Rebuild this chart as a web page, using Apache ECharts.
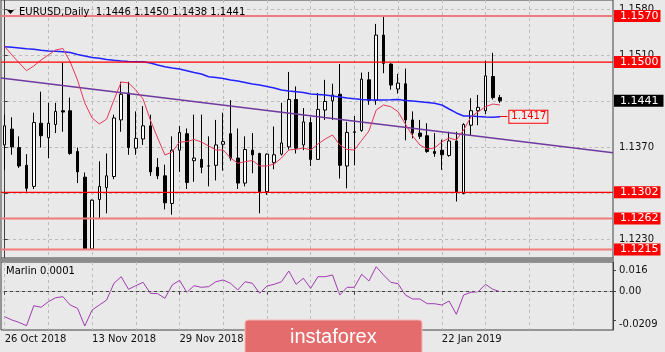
<!DOCTYPE html>
<html>
<head>
<meta charset="utf-8">
<script src="https://cdn.jsdelivr.net/npm/echarts@6/dist/echarts.min.js"></script>
<style>
html, body { margin: 0; padding: 0; background: #e9e9e9; }
#chart { width: 665px; height: 352px; }
</style>
</head>
<body>
<div id="chart"></div>
<script>
// trading days on the chart
var dates = ['26 Oct 2018','29 Oct 2018','30 Oct 2018','31 Oct 2018','1 Nov 2018','2 Nov 2018',
    '5 Nov 2018','6 Nov 2018','7 Nov 2018','8 Nov 2018','9 Nov 2018','12 Nov 2018','13 Nov 2018',
    '14 Nov 2018','15 Nov 2018','16 Nov 2018','19 Nov 2018','20 Nov 2018','21 Nov 2018','22 Nov 2018',
    '23 Nov 2018','26 Nov 2018','27 Nov 2018','28 Nov 2018','29 Nov 2018','30 Nov 2018','3 Dec 2018',
    '4 Dec 2018','5 Dec 2018','6 Dec 2018','7 Dec 2018','10 Dec 2018','11 Dec 2018','12 Dec 2018',
    '13 Dec 2018','14 Dec 2018','17 Dec 2018','18 Dec 2018','19 Dec 2018','20 Dec 2018','21 Dec 2018',
    '24 Dec 2018','26 Dec 2018','27 Dec 2018','28 Dec 2018','31 Dec 2018','2 Jan 2019','3 Jan 2019',
    '4 Jan 2019','7 Jan 2019','8 Jan 2019','9 Jan 2019','10 Jan 2019','11 Jan 2019','14 Jan 2019',
    '15 Jan 2019','16 Jan 2019','17 Jan 2019','18 Jan 2019','21 Jan 2019','22 Jan 2019','23 Jan 2019',
    '24 Jan 2019','25 Jan 2019','28 Jan 2019','29 Jan 2019','30 Jan 2019','31 Jan 2019','1 Feb 2019'];
// empty space on the right of the chart
var futureDates = ['4 Feb 2019','5 Feb 2019','6 Feb 2019','7 Feb 2019','8 Feb 2019','11 Feb 2019',
    '12 Feb 2019','13 Feb 2019','14 Feb 2019','15 Feb 2019','18 Feb 2019','19 Feb 2019','20 Feb 2019',
    '21 Feb 2019','22 Feb 2019'];

var openP = [1.1374,1.1398,1.1370,1.1343,1.1311,1.1407,1.1385,1.1405,1.1426,1.1426,
    1.1364,1.1325,1.1216,1.1291,1.1309,1.1326,1.1412,1.1453,1.1369,1.1383,
    1.1403,1.1340,1.1327,1.1285,1.1366,1.1391,1.1350,1.1352,1.1342,1.1343,
    1.1375,1.1391,1.1354,1.1316,1.1366,1.1361,1.1303,1.1347,1.1360,1.1371,
    1.1443,1.1374,1.1408,1.1352,1.1427,1.1441,1.1451,1.1342,1.1393,1.1396,
    1.1473,1.1442,1.1541,1.1497,1.1459,1.1467,1.1412,1.1392,1.1388,1.1364,
    1.1366,1.1358,1.1380,1.1300,1.1404,1.1426,1.1426,1.1478,1.1446];
var highP = [1.1420,1.1416,1.1387,1.1360,1.1423,1.1455,1.1438,1.1438,1.1499,1.1446,
    1.1370,1.1332,1.1291,1.1349,1.1361,1.1420,1.1470,1.1470,1.1425,1.1433,
    1.1420,1.1354,1.1344,1.1387,1.1403,1.1399,1.1420,1.1420,1.1387,1.1412,
    1.1423,1.1442,1.1399,1.1387,1.1392,1.1362,1.1361,1.1402,1.1438,1.1485,
    1.1463,1.1430,1.1416,1.1453,1.1473,1.1467,1.1497,1.1409,1.1418,1.1484,
    1.1485,1.1558,1.1569,1.1498,1.1482,1.1490,1.1425,1.1412,1.1407,1.1392,
    1.1382,1.1394,1.1394,1.1407,1.1445,1.1450,1.1502,1.1514,1.1450];
var lowP = [1.1336,1.1359,1.1339,1.1303,1.1307,1.1370,1.1354,1.1392,1.1394,1.1359,
    1.1316,1.1215,1.1215,1.1263,1.1270,1.1322,1.1394,1.1359,1.1359,1.1374,
    1.1327,1.1322,1.1276,1.1268,1.1333,1.1307,1.1318,1.1331,1.1311,1.1320,
    1.1335,1.1350,1.1307,1.1311,1.1331,1.1270,1.1298,1.1337,1.1358,1.1367,
    1.1361,1.1366,1.1342,1.1351,1.1412,1.1412,1.1323,1.1308,1.1343,1.1394,
    1.1435,1.1435,1.1483,1.1458,1.1452,1.1381,1.1384,1.1383,1.1362,1.1356,
    1.1336,1.1356,1.1288,1.1299,1.1389,1.1404,1.1421,1.1443,1.1438];
var closeP = [1.1403,1.1371,1.1342,1.1308,1.1408,1.1388,1.1407,1.1425,1.1424,1.1361,
    1.1333,1.1216,1.1290,1.1311,1.1327,1.1415,1.1451,1.1370,1.1384,1.1403,
    1.1333,1.1327,1.1286,1.1366,1.1393,1.1317,1.1354,1.1340,1.1342,1.1374,
    1.1379,1.1354,1.1316,1.1367,1.1359,1.1303,1.1360,1.1359,1.1377,1.1443,
    1.1369,1.1409,1.1352,1.1428,1.1440,1.1450,1.1343,1.1393,1.1394,1.1474,
    1.1442,1.1541,1.1498,1.1465,1.1468,1.1412,1.1392,1.1387,1.1364,1.1361,
    1.1359,1.1380,1.1303,1.1405,1.1426,1.1431,1.1479,1.1446,1.1441];

// moving averages
var maBlue = [1.15233,1.15224,1.15214,1.15203,1.15194,1.15179,1.15168,1.15163,1.15157,1.15145,
    1.15115,1.15092,1.15069,1.15057,1.15039,1.15027,1.15016,1.15008,1.15005,1.15005,
    1.14986,1.14955,1.14929,1.14910,1.14894,1.14869,1.14841,1.14818,1.14777,1.14765,
    1.14750,1.14727,1.14712,1.14689,1.14666,1.14651,1.14628,1.14606,1.14575,1.14560,
    1.14549,1.14537,1.14514,1.14507,1.14499,1.14484,1.14469,1.14454,1.14441,1.14431,
    1.14423,1.14423,1.14423,1.14426,1.14431,1.14416,1.14408,1.14397,1.14385,1.14373,
    1.14347,1.14286,1.14226,1.14180,1.14180,1.14172,1.14165,1.14160,1.14170];
var maRed = [1.15236,1.15107,1.14986,1.14869,1.14940,1.15031,1.15107,1.15183,1.15206,1.15001,
    1.14727,1.14378,1.14150,1.14058,1.14134,1.14423,1.14697,1.14682,1.14575,1.14438,
    1.14119,1.13846,1.13587,1.13633,1.13785,1.13789,1.13823,1.13785,1.13724,1.13663,
    1.13663,1.13542,1.13461,1.13485,1.13504,1.13420,1.13420,1.13450,1.13542,1.13663,
    1.13674,1.13694,1.13663,1.13754,1.13830,1.13891,1.13739,1.13671,1.13663,1.13808,
    1.13952,1.14271,1.14347,1.14321,1.14245,1.14058,1.13876,1.13739,1.13678,1.13694,
    1.13785,1.13846,1.13815,1.13967,1.14165,1.14245,1.14321,1.14362,1.14347];
var marlin = [-0.01844,-0.02087,-0.02271,-0.02507,-0.01032,-0.01150,-0.00737,-0.00442,-0.00369,-0.00981,
    -0.01224,-0.02530,-0.01350,-0.00981,-0.00612,0.00619,0.01106,0.00177,0.00442,0.00693,
    -0.00118,-0.00147,-0.00487,0.00494,0.00841,-0.00044,0.00442,0.00324,0.00369,0.00737,
    0.00863,0.00619,0.00125,0.00737,0.00619,-0.00118,0.00420,0.00546,0.00737,0.01527,
    0.00546,0.00988,0.00251,0.01106,0.01106,0.01232,-0.00243,0.00324,0.00324,0.01283,
    0.00789,0.01844,0.01232,0.00693,0.00590,-0.00243,-0.00538,-0.00538,-0.00885,-0.00885,
    -0.00981,-0.00686,-0.01667,-0.00243,-0.00044,0.00000,0.00546,0.00177,0.00000];

var levels = [1.1570, 1.1500, 1.1302, 1.1262, 1.1215];
var trendEnds = [1.14758, 1.13622];
var priceTicks = [1.1230, 1.1300, 1.1370, 1.1440, 1.1510, 1.1580];
var marlinTicks = [-0.0209, 0, 0.016];

var allDates = dates.concat(futureDates);
var last = dates.length - 1;
var font = 'DejaVu Sans';
var dash = { color: '#bcbcbc', type: [3, 3], width: 1 };

var candles = [];
for (var i = 0; i < dates.length; i++) {
    candles.push([openP[i], closeP[i], lowP[i], highP[i]]);
}

var showDate = function (index) {
    return index % 12 === 0 && index <= last;
};

var boxLabel = function (text, bg, padRight) {
    return {
        show: true, position: 'end', distance: 1, formatter: text,
        backgroundColor: bg, color: '#fff', fontSize: 11, fontFamily: font,
        lineHeight: 11, padding: [1, padRight, 0, 6]
    };
};

// one horizontal level = one line series of two points spanning the grid
var levelSeries = levels.map(function (v) {
    var thin = (v === 1.1500 || v === 1.1302);
    return {
        name: 'level ' + v, type: 'line', xAxisIndex: 2, yAxisIndex: 0, z: 4,
        data: [[-0.5, v], [83.5, v]], symbol: 'none', silent: true,
        lineStyle: { color: thin ? '#ff0000' : '#f27a7a', width: thin ? 1.2 : 2 },
        endLabel: boxLabel(v.toFixed(4), '#ff0000', 2)
    };
});
// current price box
levelSeries.push({
    name: 'bid', type: 'line', xAxisIndex: 2, yAxisIndex: 0, z: 5,
    data: [[-0.5, closeP[last]], [83.5, closeP[last]]], symbol: 'none', silent: true,
    lineStyle: { opacity: 0 },
    endLabel: boxLabel(closeP[last].toFixed(4), '#000', 5)
});

var title = 'EURUSD,Daily  ' + [openP[last], highP[last], lowP[last], closeP[last]].map(function (v) {
    return v.toFixed(4);
}).join(' ');

var series = [
    {
        name: 'EURUSD', type: 'candlestick', xAxisIndex: 0, yAxisIndex: 0, z: 1,
        data: candles, barWidth: 3,
        itemStyle: { color: '#ffffff', color0: '#000000', borderColor: '#000000', borderColor0: '#000000', borderWidth: 1 }
    },
    {
        name: 'trend', type: 'line', xAxisIndex: 2, yAxisIndex: 0, z: 3,
        data: [[-0.5, trendEnds[0]], [83.5, trendEnds[1]]],
        symbol: 'none', lineStyle: { color: '#6e3a9e', width: 1.5 }
    },
    {
        name: 'MA slow', type: 'line', xAxisIndex: 0, yAxisIndex: 0, z: 3,
        data: maBlue, symbol: 'none', lineStyle: { color: '#2222ff', width: 1.5 },
        markLine: {
            symbol: ['none', 'none'], silent: true, animation: false,
            data: [[
                { coord: [last, maBlue[last]], lineStyle: { color: '#ff0000', width: 1, type: 'solid' } },
                {
                    coord: [last + 1, maBlue[last]],
                    label: {
                        show: true, position: 'end', distance: 2, formatter: maBlue[last].toFixed(4),
                        color: '#ff0000', backgroundColor: '#ececec', borderColor: '#ff0000', borderWidth: 1,
                        fontSize: 10, fontFamily: font, lineHeight: 11, padding: [1, 1, 0, 2]
                    }
                }
            ]]
        }
    },
    {
        name: 'MA fast', type: 'line', xAxisIndex: 0, yAxisIndex: 0, z: 3,
        data: maRed, symbol: 'none', lineStyle: { color: '#e8375a', width: 1 }
    },
    {
        name: 'Marlin', type: 'line', xAxisIndex: 1, yAxisIndex: 1,
        data: marlin, symbol: 'none', lineStyle: { color: '#a03cb0', width: 1 },
        markLine: {
            symbol: ['none', 'none'], silent: true, animation: false, label: { show: false },
            data: [{ yAxis: 0, lineStyle: dash }]
        }
    }
].concat(levelSeries);

var option = {
    animation: false,
    backgroundColor: '#e9e9e9',
    grid: [
        { left: 1, top: 0, width: 612, height: 258, show: true, borderColor: '#404040', borderWidth: 1 },
        { left: 1, top: 262, width: 612, height: 68, show: true, borderColor: '#404040', borderWidth: 1 }
    ],
    xAxis: [
        {
            type: 'category', gridIndex: 0, data: allDates,
            axisLine: { show: false }, axisTick: { show: false }, axisLabel: { show: false },
            splitLine: { show: true, interval: 5, alignWithLabel: true, lineStyle: dash }
        },
        {
            type: 'category', gridIndex: 1, data: allDates,
            axisLine: { show: true, lineStyle: { color: '#404040' } },
            axisTick: { show: true, alignWithLabel: true, interval: showDate, length: 3, lineStyle: { color: '#404040' } },
            axisLabel: {
                interval: showDate, align: 'left', margin: 4,
                fontSize: 10, fontFamily: font, color: '#111'
            },
            splitLine: { show: true, interval: 5, alignWithLabel: true, lineStyle: dash }
        },
        { type: 'value', gridIndex: 0, min: -0.5, max: 83.5, show: false }
    ],
    yAxis: [
        {
            type: 'value', gridIndex: 0, position: 'right',
            min: 1.12021, max: 1.159432,
            axisLine: { show: true, lineStyle: { color: '#404040' } },
            axisTick: { show: true, length: 3, customValues: priceTicks, lineStyle: { color: '#404040' } },
            axisLabel: {
                customValues: priceTicks, margin: 6, fontSize: 10, fontFamily: font, color: '#111',
                formatter: function (v) { return v.toFixed(4); }
            },
            splitLine: { show: true, lineStyle: dash }
        },
        {
            type: 'value', gridIndex: 1, position: 'right',
            min: -0.028245, max: 0.021903,
            axisLine: { show: true, lineStyle: { color: '#404040' } },
            axisTick: { show: true, length: 3, customValues: marlinTicks, lineStyle: { color: '#404040' } },
            axisLabel: {
                customValues: marlinTicks, margin: 6, fontSize: 10, fontFamily: font, color: '#111',
                formatter: function (v) {
                    if (v === 0) return '0.00';
                    if (v < 0) return '{low|' + v + '}';
                    return String(v);
                },
                rich: { low: { fontSize: 10, fontFamily: font, color: '#111', padding: [8, 0, 0, 0] } }
            },
            splitLine: { show: false }
        }
    ],
    series: series,
    graphic: [
        { type: 'rect', shape: { x: 0, y: 258, width: 614, height: 4 }, style: { fill: '#8c8c8c' }, z: 10 },
        { type: 'polygon', shape: { points: [[7, 10], [14, 10], [10.5, 14]] }, style: { fill: '#000' }, z: 10 },
        { type: 'text', x: 19, y: 7, style: { text: title, fill: '#000', font: '10px "DejaVu Sans"' }, z: 10 },
        { type: 'text', x: 6, y: 266, style: { text: 'Marlin 0.0001', fill: '#000', font: '10px "DejaVu Sans"' }, z: 10 },
        {
            type: 'rect', shape: { x: 245, y: 320, width: 177, height: 34, r: 3 },
            style: { fill: '#e46c6c', stroke: '#f4b8b8', lineWidth: 1 }, z: 20
        },
        {
            type: 'text', x: 290, y: 337, z: 21,
            style: { text: 'instaforex', fill: '#ffffff', font: '20px "Liberation Sans"', verticalAlign: 'middle' }
        }
    ]
};

var myChart = echarts.init(document.getElementById('chart'));
myChart.setOption(option);
</script>
</body>
</html>
